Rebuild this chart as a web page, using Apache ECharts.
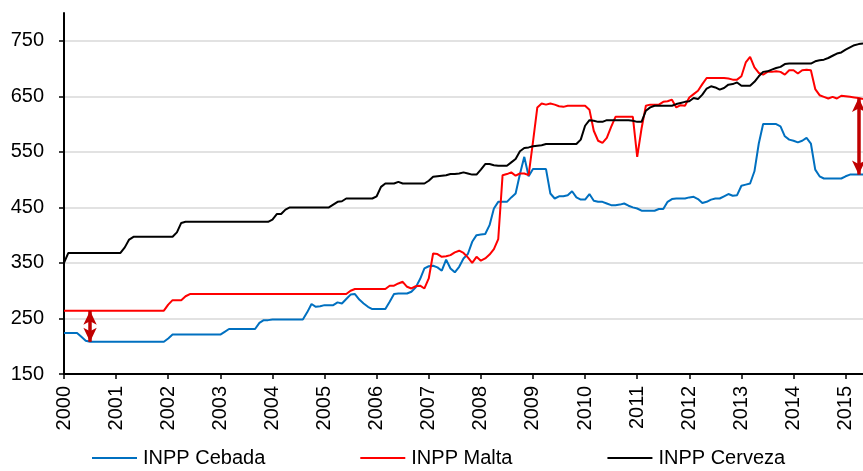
<!DOCTYPE html>
<html>
<head>
<meta charset="utf-8">
<script src="https://cdn.jsdelivr.net/npm/echarts@6/dist/echarts.min.js"></script>
<style>
html,body{margin:0;padding:0;background:#fff;}
#chart{width:863px;height:471px;}
</style>
</head>
<body>
<div id="chart"></div>
<script>
// Monthly series, January 2000 onwards
const startYear = 2000;
const seriesNames = ['INPP Cebada', 'INPP Malta', 'INPP Cerveza'];
const cebada = [
  224,224,224,224,217,210,208,208,208,208,208,208,
  208,208,208,208,208,208,208,208,208,208,208,208,
  214,221,221,221,221,221,221,221,221,221,221,221,
  221,226,231,231,231,231,231,231,231,242,247,247,
  248,248,248,248,248,248,248,248,261,276,271,272,
  274,274,274,279,277,285,293,294,284,277,271,267,
  267,267,267,280,294,295,295,295,298,306,321,340,
  344,345,342,336,356,340,333,343,358,366,388,400,
  401,402,418,448,460,460,460,468,475,510,541,506,
  519,519,519,519,475,466,470,470,472,479,468,464,
  464,474,462,460,460,457,454,454,455,457,453,450,
  448,444,444,444,444,447,447,460,465,466,466,466,
  468,469,465,458,460,464,466,466,470,474,471,472,
  489,491,493,515,565,600,600,600,600,596,578,572,
  570,567,570,575,565,518,506,502,502,502,502,502,
  506,509,509,509,509
];
const malta = [
  264,264,264,264,264,264,264,264,264,264,264,264,
  264,264,264,264,264,264,264,264,264,264,264,264,
  275,283,283,283,290,294,294,294,294,294,294,294,
  294,294,294,294,294,294,294,294,294,294,294,294,
  294,294,294,294,294,294,294,294,294,294,294,294,
  294,294,294,294,294,294,300,303,303,303,303,303,
  303,303,303,309,309,313,316,307,304,308,309,304,
  322,367,366,361,362,364,369,372,368,360,350,361,
  354,358,365,375,393,508,510,513,507,511,511,508,
  568,630,637,635,637,635,632,631,633,633,633,633,
  633,626,588,570,566,575,595,613,613,613,613,613,
  541,592,633,635,635,635,640,641,644,630,634,633,
  648,654,660,672,683,683,683,683,683,682,680,680,
  686,711,721,702,692,689,694,694,695,694,689,697,
  697,691,697,698,697,663,652,649,646,649,646,651,
  650,649,648,647,645
];
const cerveza = [
  350,368,368,368,368,368,368,368,368,368,368,368,
  368,368,378,392,397,397,397,397,397,397,397,397,
  397,397,405,422,424,424,424,424,424,424,424,424,
  424,424,424,424,424,424,424,424,424,424,424,424,
  428,438,438,446,450,450,450,450,450,450,450,450,
  450,450,455,460,461,466,466,466,466,466,466,466,
  470,487,493,493,493,496,493,493,493,493,493,493,
  498,505,506,507,508,510,510,511,513,511,509,509,
  518,528,528,526,525,525,525,531,537,551,557,558,
  560,561,562,564,564,564,564,564,564,564,564,572,
  597,607,606,604,604,607,607,607,607,607,607,606,
  604,604,624,630,633,633,633,633,633,636,638,640,
  641,647,645,653,664,668,666,662,665,671,672,675,
  669,669,669,676,686,694,695,698,701,703,708,709,
  709,709,709,709,709,713,715,716,719,723,727,729,
  734,738,742,744,745
];
// Month indices where the gap arrows are drawn
const arrowMonths = [6, 183];

const categories = [];
for (let i = 0; i < cerveza.length; i++) {
  const y = startYear + Math.floor(i / 12);
  const m = (i % 12) + 1;
  categories.push(y + '-' + String(m).padStart(2, '0'));
}

const font = 'Liberation Sans, Arial, sans-serif';
const chart = echarts.init(document.getElementById('chart'), null, {renderer: 'canvas'});
const yearIdx = (idx) => idx % 12 === 0;

const arrowData = arrowMonths.map(i => [
  {coord: [categories[i], malta[i]]},
  {coord: [categories[i], cebada[i]]}
]);

chart.setOption({
  animation: false,
  grid: {left: 64, top: 13, width: 801, bottom: 97, containLabel: false},
  legend: {
    data: seriesNames,
    icon: 'rect',
    left: 87, top: 443,
    itemWidth: 45, itemHeight: 2, itemGap: 95,
    textStyle: {fontSize: 20, color: '#000', fontFamily: font, padding: [0, 0, 0, 1]}
  },
  xAxis: {
    type: 'category',
    data: categories,
    boundaryGap: false,
    axisLine: {lineStyle: {color: '#000', width: 2}},
    axisTick: {show: true, interval: yearIdx, length: 5, lineStyle: {color: '#000', width: 1.5}},
    axisLabel: {
      interval: yearIdx, rotate: 90, margin: 12,
      formatter: v => v.slice(0, 4),
      fontSize: 20, color: '#000', fontFamily: font
    },
    splitLine: {show: false}
  },
  yAxis: {
    type: 'value',
    min: 150, max: 800, interval: 100,
    axisLine: {show: true, lineStyle: {color: '#000', width: 2}},
    axisTick: {show: true, length: 5, lineStyle: {color: '#000', width: 1.5}},
    axisLabel: {fontSize: 20, color: '#000', fontFamily: font, margin: 20, showMaxLabel: false},
    splitLine: {show: true, showMaxLine: false, lineStyle: {color: ['#d9d9d9','#d9d9d9','#d9d9d9','#d9d9d9','#d9d9d9','#d9d9d9','#d9d9d9','rgba(0,0,0,0)'], width: 1.5}}
  },
  series: [
    {name: seriesNames[0], type: 'line', data: cebada, symbol: 'none', lineStyle: {color: '#0070C0', width: 2}, itemStyle: {color: '#0070C0'}},
    {name: seriesNames[1], type: 'line', data: malta, symbol: 'none', lineStyle: {color: '#FF0000', width: 2}, itemStyle: {color: '#FF0000'},
      markLine: {
        silent: true, symbol: ['arrow', 'arrow'], symbolSize: [10, 14],
        label: {show: false},
        lineStyle: {color: '#C00000', width: 3.5, type: 'solid'},
        emphasis: {disabled: true},
        data: arrowData
      }
    },
    {name: seriesNames[2], type: 'line', data: cerveza, symbol: 'none', lineStyle: {color: '#000000', width: 2}, itemStyle: {color: '#000000'}}
  ]
});
</script>
</body>
</html>
